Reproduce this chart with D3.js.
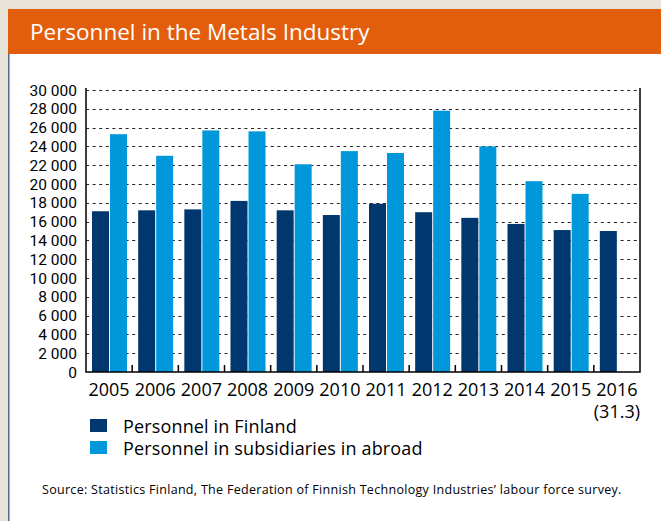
<!DOCTYPE html>
<html>
<head>
<meta charset="utf-8">
<script src="https://cdn.jsdelivr.net/npm/d3@7"></script>
<style>
  body { margin: 0; background: #e7e3d9; }
  svg { display: block; font-family: "Open Sans", sans-serif; }
</style>
</head>
<body>
<svg></svg>
<script>
const years = ["2005", "2006", "2007", "2008", "2009", "2010", "2011", "2012", "2013", "2014", "2015", "2016"];
const finland = [17100, 17200, 17300, 18200, 17200, 16700, 17900, 17000, 16400, 15750, 15100, 15000];
const abroad = [25300, 23000, 25700, 25600, 22100, 23500, 23300, 27800, 24000, 20300, 18950, null];
const seriesNames = ["Personnel in Finland", "Personnel in subsidiaries in abroad"];
const seriesColors = ["#00376f", "#0098da"];
const yTicks = d3.range(0, 30001, 2000);

let width = 661,
    height = 521;

const svg = d3.select("svg")
    .attr("width", width)
    .attr("height", height);

// Rahmen + Titelbalken
svg.append("rect")
    .attr("x", 8).attr("y", 54)
    .attr("width", width - 8).attr("height", height - 54)
    .attr("fill", "#fff");
svg.append("line")
    .attr("x1", 8.75).attr("x2", 8.75)
    .attr("y1", 54).attr("y2", height)
    .attr("stroke", "#4d6b8f").attr("stroke-width", 1.5);
svg.append("rect")
    .attr("x", 8).attr("y", 9)
    .attr("width", width - 8).attr("height", 45)
    .attr("fill", "#e35e0c");
svg.append("text")
    .attr("x", 30).attr("y", 40)
    .attr("fill", "#fff")
    .attr("font-size", 22.5)
    .text("Personnel in the Metals Industry");

// Skalen
const plotLeft = 86, plotRight = 640, plotTop = 90, plotBottom = 372;

const x0 = d3.scaleBand()
    .domain(years)
    .range([plotLeft, plotRight]);

const x1 = d3.scaleBand()
    .domain([0, 1])
    .range([6, 41])
    .paddingInner(1 / 18);

const y = d3.scaleLinear()
    .domain([0, 30000])
    .range([plotBottom, plotTop]);

const fmt = d3.formatLocale({ decimal: ".", thousands: " ", grouping: [3], currency: ["", ""] }).format(",");

// Gitterlinien
svg.append("g").attr("class", "grid")
    .selectAll("line")
    .data(yTicks.filter(d => d > 0))
    .enter()
    .append("line")
    .attr("x1", plotLeft).attr("x2", plotRight)
    .attr("y1", d => Math.round(y(d)) + 0.5)
    .attr("y2", d => Math.round(y(d)) + 0.5)
    .attr("stroke", "#222")
    .attr("stroke-dasharray", "3,3.6");

// Balken
const groups = svg.append("g").attr("class", "bars")
    .selectAll("g")
    .data(years)
    .enter()
    .append("g")
    .attr("transform", d => `translate(${x0(d)} 0)`);

groups.selectAll("rect")
    .data((d, i) => [finland[i], abroad[i]].map((v, k) => ({ k: k, v: v })).filter(e => e.v != null))
    .enter()
    .append("rect")
    .attr("x", d => x1(d.k))
    .attr("width", x1.bandwidth())
    .attr("y", d => y(d.v))
    .attr("height", d => plotBottom - y(d.v))
    .attr("fill", d => seriesColors[d.k]);

// Achsen
svg.append("path")
    .attr("d", `M${plotLeft},${plotTop - 2}V${plotBottom}H${plotRight}V${plotTop - 2}`)
    .attr("fill", "none")
    .attr("stroke", "#000")
    .attr("stroke-width", 1.5);

svg.append("g").attr("class", "xticks")
    .selectAll("line")
    .data(years.slice(1))
    .enter()
    .append("line")
    .attr("x1", d => x0(d)).attr("x2", d => x0(d))
    .attr("y1", plotBottom).attr("y2", plotBottom - 7)
    .attr("stroke", "#000")
    .attr("stroke-width", 1.5);

svg.append("g").attr("class", "ylabels")
    .selectAll("text")
    .data(yTicks)
    .enter()
    .append("text")
    .attr("x", 77)
    .attr("y", d => y(d) + 5.5)
    .attr("text-anchor", "end")
    .attr("font-family", "Roboto, sans-serif")
    .attr("font-size", 15.5)
    .attr("fill", "#000")
    .text(d => fmt(d));

svg.append("g").attr("class", "xlabels")
    .selectAll("text")
    .data(years)
    .enter()
    .append("text")
    .attr("x", d => x0(d) + x0.bandwidth() / 2)
    .attr("y", 396)
    .attr("text-anchor", "middle")
    .attr("font-size", 18)
    .attr("fill", "#000")
    .text(d => d);

svg.append("text")
    .attr("x", x0("2016") + x0.bandwidth() / 2)
    .attr("y", 418)
    .attr("text-anchor", "middle")
    .attr("font-size", 18)
    .attr("fill", "#000")
    .text("(31.3)");

// Legende
const legend = svg.append("g").attr("class", "legend")
    .selectAll("g")
    .data(seriesNames)
    .enter()
    .append("g")
    .attr("transform", (d, i) => `translate(90 ${419 + i * 22})`);

legend.append("rect")
    .attr("width", 17).attr("height", 13)
    .attr("fill", (d, i) => seriesColors[i]);

legend.append("text")
    .attr("x", 33).attr("y", 13.5)
    .attr("font-size", 18)
    .attr("letter-spacing", 0.15)
    .attr("fill", "#000")
    .text(d => d);

// Quelle
svg.append("text")
    .attr("x", 42).attr("y", 494)
    .attr("font-size", 12.5)
    .attr("letter-spacing", 0.3)
    .attr("fill", "#000")
    .text("Source: Statistics Finland, The Federation of Finnish Technology Industries’ labour force survey.");
</script>
</body>
</html>
